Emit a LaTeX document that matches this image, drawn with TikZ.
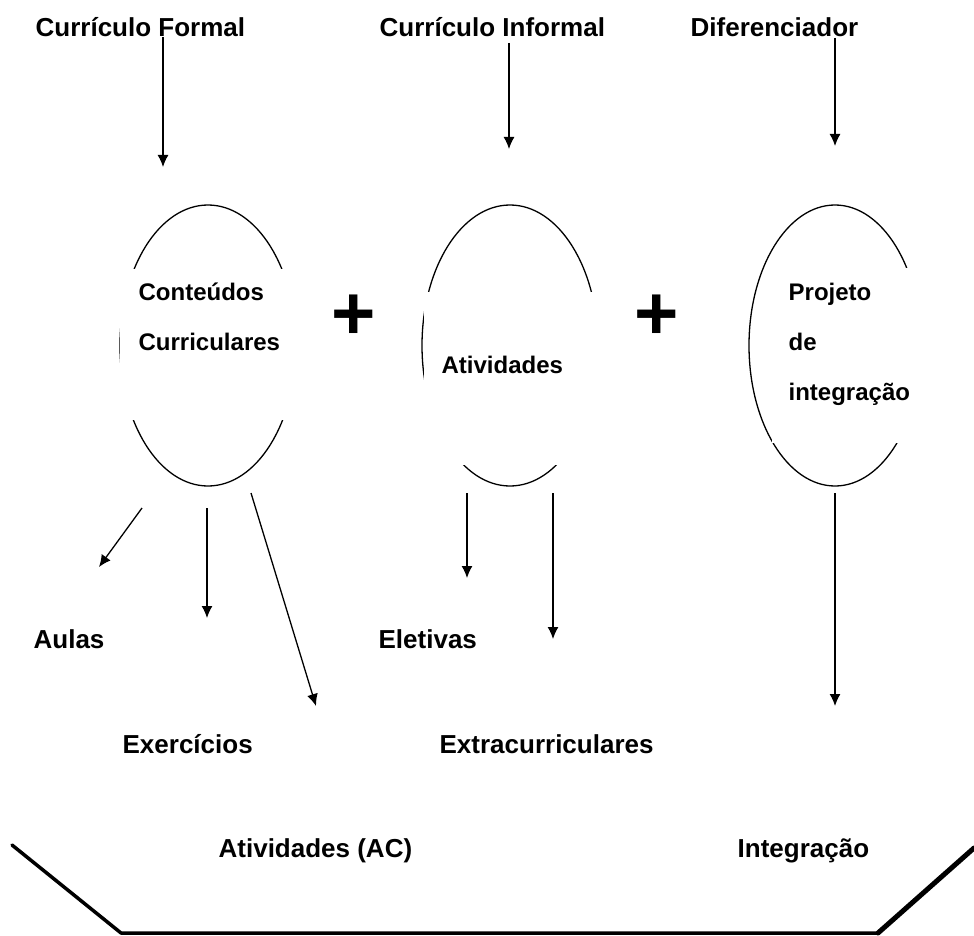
\documentclass[tikz,border=0pt]{standalone}
\usepackage{fontspec}
\setmainfont{Liberation Sans}
\usetikzlibrary{arrows.meta,shapes.geometric}
\tikzset{%
  outertext/.style={
    font=\fontsize{26}{30}\selectfont\bfseries,
    inner sep=0pt,
    anchor=base west
  },
  innertext/.style={
    font=\fontsize{24}{28}\selectfont\bfseries,
    inner sep=0pt,
    anchor=base west
  },
  oval/.style={
    ellipse,
    draw,
    inner sep=0pt,
    minimum width=176pt,
    minimum height=281pt
  },
  cover/.style={fill=white, inner sep=0pt},
  plussign/.style={font=\fontsize{76}{76}\selectfont\bfseries, inner sep=0pt},
  basin/.style={line width=3.5pt, line cap=round, line join=round},
}

\begin{document}
\begin{tikzpicture}[x=1pt,y=-1pt,>={Latex[length=12pt,width=11pt]},line width=1.3pt]
        \useasboundingbox (0,0) rectangle (974,936);

        % ovals, partly hidden by the white text boxes
        \node[oval] (formalOval) at (208,345.5) {};
        \node[oval] (informalOval) at (510,345.5) {};
        \node[oval, minimum width=172pt] (diffOval) at (835,345.5) {};
        \node[cover, minimum width=181pt, minimum height=151pt] (formalBox) at (210.5,344.5) {};
        \node[cover, minimum width=177pt, minimum height=173pt] (informalBox) at (512,378.5) {};
        \node[cover, minimum width=153pt, minimum height=175pt] (diffBox) at (848.5,355.5) {};

        % headings
        \node[outertext] (formal) at (35,37) {Currículo Formal};
        \node[outertext] (informal) at (379,37) {Currículo Informal};
        \node[outertext] (diff) at (690,37) {Diferenciador};

        % texts inside the ovals
        \node[innertext] (conteudos) at (138,300) {Conteúdos};
        \node[innertext] (curriculares) at (138,350) {Curriculares};
        \node[innertext] (atividades) at (441,373) {Atividades};
        \node[innertext] (projeto) at (788,300) {Projeto};
        \node[innertext] (de) at (788,350) {de};
        \node[innertext] (integracao) at (788,400) {integração};

        \node[plussign] (plusA) at (354,317) {+};
        \node[plussign] (plusB) at (657,317) {+};

        % results
        \node[outertext] (aulas) at (33,648) {Aulas};
        \node[outertext] (eletivas) at (378,648) {Eletivas};
        \node[outertext] (exercicios) at (122,753) {Exercícios};
        \node[outertext] (extra) at (439,753) {Extracurriculares};
        \node[outertext] (ativAC) at (218,857) {Atividades (AC)};
        \node[outertext] (integ) at (737,857) {Integração};

        % arrow ends
        \coordinate (formalFrom) at (163,37);
        \coordinate (formalTo) at (163,167);
        \coordinate (informalFrom) at (509,43);
        \coordinate (informalTo) at (509,149);
        \coordinate (diffFrom) at (835,38);
        \coordinate (diffTo) at (835,146);
        \coordinate (aulasFrom) at (142,508);
        \coordinate (aulasTo) at (99,567);
        \coordinate (exercFrom) at (207,508);
        \coordinate (exercTo) at (207,618);
        \coordinate (ativFrom) at (251,493);
        \coordinate (ativTo) at (316,706);
        \coordinate (eletFrom) at (467,493);
        \coordinate (eletTo) at (467,578);
        \coordinate (extraFrom) at (553,493);
        \coordinate (extraTo) at (553,639);
        \coordinate (integFrom) at (835,493);
        \coordinate (integTo) at (835,706);

        \draw[->] (formalFrom) -- (formalTo);
        \draw[->] (informalFrom) -- (informalTo);
        \draw[->] (diffFrom) -- (diffTo);
        \draw[->] (aulasFrom) -- (aulasTo);
        \draw[->] (exercFrom) -- (exercTo);
        \draw[->] (ativFrom) -- (ativTo);
        \draw[->] (eletFrom) -- (eletTo);
        \draw[->] (extraFrom) -- (extraTo);
        \draw[->] (integFrom) -- (integTo);

        % basin at the bottom
        \coordinate (basinA) at (12,845);
        \coordinate (basinB) at (121,933);
        \coordinate (basinC) at (878,933);
        \coordinate (basinD) at (974,848);
        \draw[basin] (basinA) -- (basinB) -- (basinC);
        \draw[basin, line width=5pt] (basinC) -- (basinD);
    \end{tikzpicture}
\end{document}
